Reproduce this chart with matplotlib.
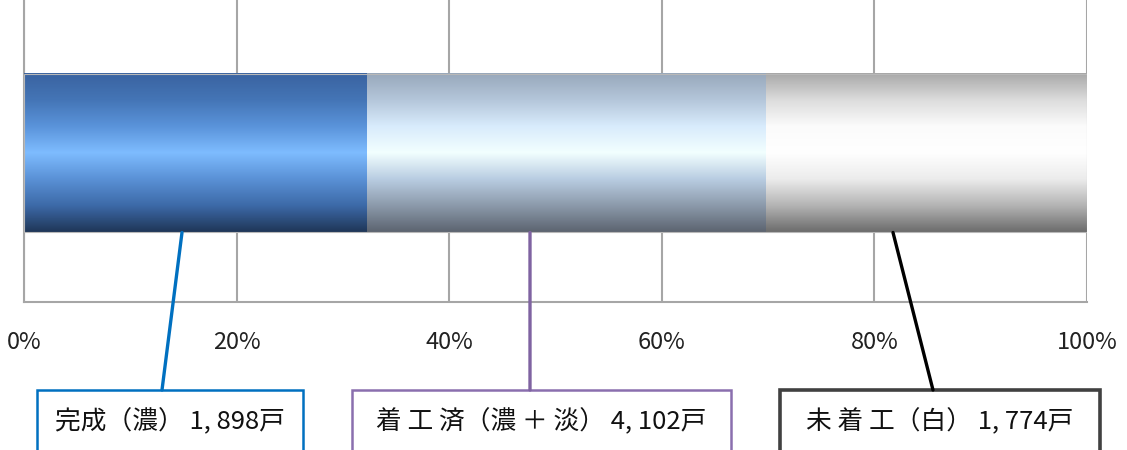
import numpy as np
import matplotlib
matplotlib.use("Agg")
import matplotlib.pyplot as plt
from matplotlib.colors import LinearSegmentedColormap
from matplotlib.patches import Rectangle, ConnectionPatch

plt.rcParams['font.family'] = ['Noto Sans CJK JP', 'DejaVu Sans']

# data
done = 1898          # 完成（濃）
started_total = 4102  # 着工済（濃＋淡）
not_started = 1774    # 未着工（白）
segments = [done, started_total - done, not_started]
total = sum(segments)
tick_vals = [0, 20, 40, 60, 80, 100]
tick_labels = ["0%", "20%", "40%", "60%", "80%", "100%"]
box_texts = ["完成（濃） 1, 898戸", "着 工 済（濃 ＋ 淡） 4, 102戸", "未 着 工（白） 1, 774戸"]

pct = np.array(segments) / total * 100
lefts = np.concatenate([[0], np.cumsum(pct)[:-1]])

W, H = 1127, 450
fig = plt.figure(figsize=(W / 100, H / 100), dpi=100, facecolor="white")
ax = fig.add_axes([24 / W, 1 - 302 / H, (1087 - 24) / W, 302 / H + 0.02])
ax.set_xlim(0, 100)
ax.set_ylim(0, 1.02)

bar_y0, bar_y1 = 0.228, 0.748

# vertical gradients (bottom -> top)
grads = [
    ["#1f3658", "#3d6aa8", "#5a91d6", "#7ebcff", "#5a93da", "#4475b6", "#3a63a0"],
    ["#5c6470", "#8c9aab", "#b9cde2", "#f2ffff", "#d8ebfc", "#b4c6da", "#98a8bb"],
    ["#6c6c6c", "#b4b4b4", "#ececec", "#ffffff", "#fbfbfb", "#dcdcdc", "#a8a8a8"],
]
for left, w, stops in zip(lefts, pct, grads):
    cmap = LinearSegmentedColormap.from_list("g", stops)
    grad = np.linspace(0, 1, 256).reshape(-1, 1)
    ax.imshow(grad, cmap=cmap, origin="lower", aspect="auto",
              extent=[left, left + w, bar_y0, bar_y1], zorder=3,
              interpolation="bilinear")

ax.add_patch(Rectangle((0, bar_y0), 100, bar_y1 - bar_y0, fill=False,
                       edgecolor="#b8b8b8", linewidth=0.8, zorder=5))

ax.set_xticks(tick_vals)
ax.set_xticklabels(tick_labels, fontsize=17, color="#222222")
ax.set_yticks([])
ax.tick_params(axis="x", length=0, pad=21)
ax.grid(axis="x", color="#a6a6a6", linewidth=1.5, zorder=0)
for s in ["top", "right"]:
    ax.spines[s].set_visible(False)
for s in ["left", "bottom"]:
    ax.spines[s].set_color("#a6a6a6")
    ax.spines[s].set_linewidth(1.5)

# labels with leader lines
line_colors = ["#0070c0", "#7f63a1", "#000000"]
box_colors = ["#0070c0", "#8a6fae", "#404040"]
box_lw = [1.8, 1.8, 2.6]
boxes = [(37, 303), (352, 731), (780, 1100)]
anchor_x = [(182 - 24) / 10.63, (530 - 24) / 10.63, (893 - 24) / 10.63]
end_px = [162, 530, 933]
box_top = 390

for txt, lc, bc, blw, (bx0, bx1), ax_x, ex in zip(box_texts, line_colors, box_colors,
                                                    box_lw, boxes, anchor_x, end_px):
    fig.add_artist(Rectangle((bx0 / W, -0.05), (bx1 - bx0) / W, 1 - box_top / H + 0.05,
                             transform=fig.transFigure, fill=False, edgecolor=bc,
                             linewidth=blw, clip_on=False))
    con = ConnectionPatch(xyA=(ax_x, bar_y0), coordsA=ax.transData,
                          xyB=(ex / W, 1 - box_top / H), coordsB=fig.transFigure,
                          color=lc, linewidth=2.4)
    fig.add_artist(con)
    fig.text((bx0 + bx1) / 2 / W, 1 - 422 / H, txt, fontsize=18.5, color="#111111",
             ha="center", va="center")

fig.savefig("out.png", dpi=100, facecolor="white")
plt.close()
